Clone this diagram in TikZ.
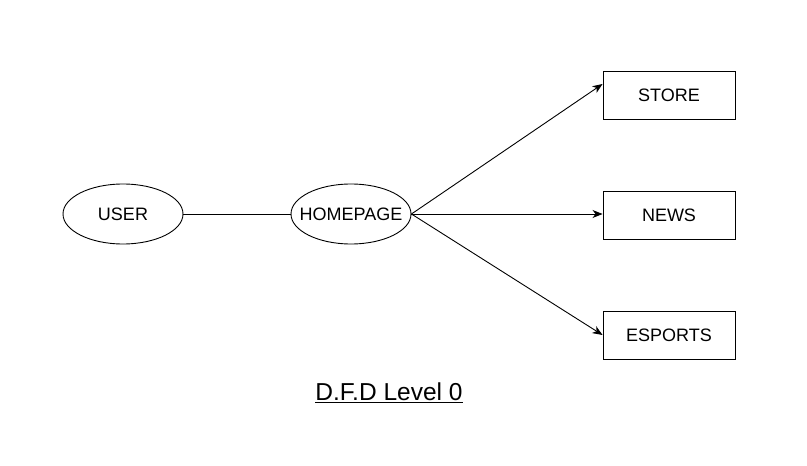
\documentclass[tikz,border=0pt]{standalone}
\usepackage{fontspec}
\setmainfont{Liberation Sans}
\usetikzlibrary{shapes, arrows.meta}

\begin{document}
\begin{tikzpicture}[x=1pt, y=1pt,
    proc/.style={draw, ellipse, line width=0.9pt, minimum width=120pt, minimum height=60pt, inner xsep=-10pt, inner ysep=0pt, font=\fontsize{18}{21}\selectfont},
    ent/.style={draw, rectangle, line width=0.9pt, minimum width=132pt, minimum height=48pt, inner sep=0pt, font=\fontsize{18}{21}\selectfont},
    flow/.style={line width=0.9pt, -{Stealth[length=10pt, width=8pt, inset=3pt]}}]
    \useasboundingbox (0,0) rectangle (807,466);

    % Processes
    \node[proc] (user) at (123,252) {USER};
    \node[proc] (home) at (351,252) {HOMEPAGE};

    % External entities
    \node[ent] (store) at (669,371) {STORE};
    \node[ent] (news) at (669,251) {NEWS};
    \node[ent] (esports) at (669,131) {ESPORTS};
    \coordinate (storein) at ([yshift=11pt]store.west);

    % Flows
    \draw[line width=0.9pt] (user) -- (home);
    \draw[flow] (home.east) -- (storein);
    \draw[flow] (home.east) -- (news.west |- home.east);
    \draw[flow] (home.east) -- (esports.west);

    % Title
    \node[font=\fontsize{24.5}{28}\selectfont] (title) at (389,73) {\underline{D.F.D Level 0}};
\end{tikzpicture}
\end{document}
